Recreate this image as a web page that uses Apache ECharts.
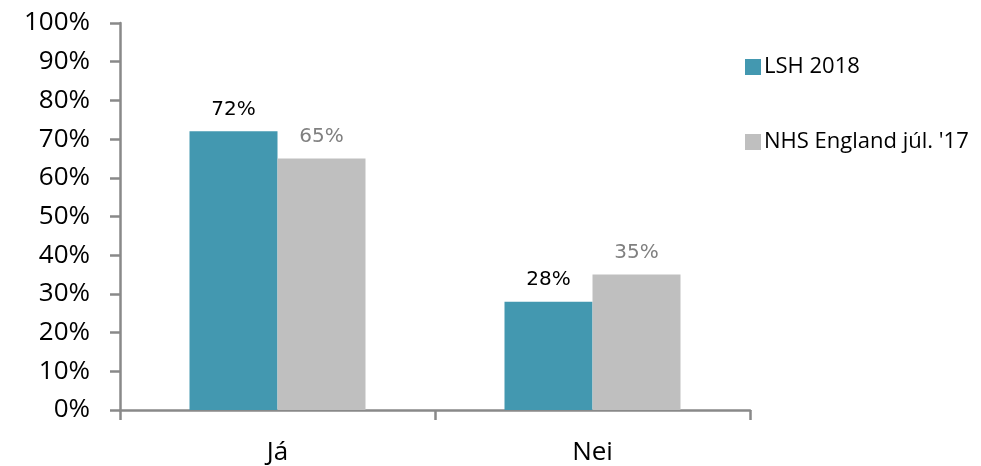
<!DOCTYPE html>
<html>
<head>
<meta charset="utf-8">
<script src="https://cdn.jsdelivr.net/npm/echarts@6/dist/echarts.min.js"></script>
<style>html,body{margin:0;padding:0;background:#fff}#c{width:981px;height:466px}</style>
</head>
<body>
<div id="c"></div>
<script>
const categories = ['Já', 'Nei'];
const seriesNames = ['LSH 2018', "NHS England júl. '17"];
const lshValues = [72, 28];
const nhsValues = [65, 35];
const yTicks = [0, 10, 20, 30, 40, 50, 60, 70, 80, 90, 100];

const chart = echarts.init(document.getElementById('c'), null, {renderer: 'canvas'});
const axisColor = '#898989';
chart.setOption({
  animation: false,
  backgroundColor: '#fff',
  grid: {left: 120, right: 231, top: 23, bottom: 55, containLabel: false},
  legend: {
    orient: 'vertical', left: 740, top: 51,
    itemWidth: 16, itemHeight: 16, itemGap: 53,
    icon: 'rect',
    textStyle: {fontFamily: 'Open Sans', fontSize: 22, color: '#000', padding: [0, 0, 0, -2]},
    data: seriesNames
  },
  xAxis: {
    type: 'category', data: categories,
    axisLine: {lineStyle: {color: axisColor, width: 2.5}},
    axisTick: {show: true, length: 10, alignWithLabel: false, lineStyle: {color: axisColor, width: 2.5}},
    axisLabel: {fontFamily: 'Open Sans', fontSize: 26, color: '#000', margin: 30}
  },
  yAxis: {
    type: 'value', min: 0, max: 100, interval: 10,
    splitLine: {show: false},
    axisLine: {show: true, lineStyle: {color: axisColor, width: 2.5}},
    axisTick: {show: true, length: 10, lineStyle: {color: axisColor, width: 2.5}},
    axisLabel: {fontFamily: 'Open Sans', fontSize: 26, color: '#000', margin: 30,
      formatter: v => yTicks.includes(v) ? v + '%' : ''}
  },
  series: [
    {
      name: seriesNames[0], type: 'bar', data: lshValues, barWidth: 88, barGap: '0%',
      itemStyle: {color: '#4398B0'},
      label: {show: true, position: 'top', distance: 12, formatter: p => p.value + '%',
        fontFamily: 'DejaVu Sans', fontSize: 20, color: '#000'}
    },
    {
      name: seriesNames[1], type: 'bar', data: nhsValues, barWidth: 88, barGap: '0%',
      itemStyle: {color: '#BFBFBF'},
      label: {show: true, position: 'top', distance: 12, formatter: p => p.value + '%',
        fontFamily: 'DejaVu Sans', fontSize: 20, color: '#808080'}
    }
  ]
});
</script>
</body>
</html>
